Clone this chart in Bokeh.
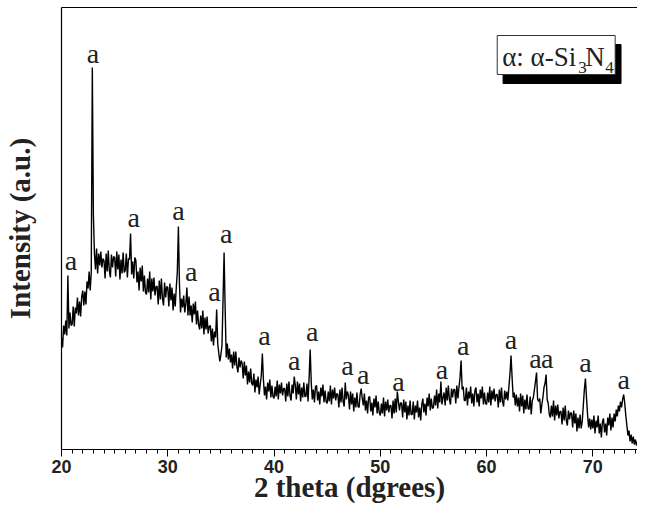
from bokeh.plotting import figure
from bokeh.models import Range1d, SingleIntervalTicker, FixedTicker, LinearAxis
from bokeh.core.properties import value
from bokeh.embed import file_html
from bokeh.resources import INLINE

# ---- data ----
two_theta_start = 20.0
two_theta_step = 0.1
intensity = [
    112, 102, 124, 115, 129, 114, 174, 121, 137, 124,   # 20
    125, 143, 123, 142, 136, 152, 134, 148, 133, 153,   # 21
    159, 144, 158, 145, 168, 161, 178, 159, 177, 382,   # 22
    235, 196, 180, 201, 176, 196, 184, 198, 182, 191,   # 23
    189, 171, 196, 178, 199, 179, 172, 195, 182, 193,   # 24
    192, 173, 198, 180, 195, 170, 190, 176, 197, 177,   # 25
    179, 196, 172, 191, 190, 216, 175, 188, 171, 192,   # 26
    189, 167, 178, 159, 182, 168, 184, 158, 174, 157,   # 27
    155, 171, 157, 178, 150, 171, 158, 172, 154, 163,   # 28
    163, 145, 169, 150, 171, 151, 144, 167, 152, 163,   # 29
    162, 143, 166, 149, 162, 139, 156, 143, 162, 178,   # 30
    223, 165, 137, 151, 142, 154, 137, 146, 162, 134,   # 31
    153, 134, 144, 127, 146, 135, 148, 125, 139, 125,   # 32
    120, 134, 121, 139, 115, 132, 120, 133, 116, 123,   # 33
    124, 108, 121, 104, 118, 112, 140, 106, 96, 88,     # 34
    95, 104, 150, 197, 140, 92, 106, 90, 101, 87,       # 35
    95, 81, 98, 84, 98, 83, 77, 92, 82, 89,             # 36
    86, 71, 88, 74, 84, 65, 78, 67, 81, 66,             # 37
    64, 76, 57, 70, 62, 73, 55, 65, 74, 96,             # 38
    70, 54, 63, 50, 67, 58, 70, 52, 64, 53,             # 39
    51, 63, 53, 69, 50, 65, 56, 67, 54, 61,             # 40
    61, 48, 66, 53, 68, 54, 49, 65, 56, 73,             # 41
    64, 50, 68, 55, 66, 48, 62, 52, 67, 53,             # 42
    53, 66, 48, 72, 100, 67, 50, 60, 47, 63,            # 43
    64, 49, 58, 45, 62, 53, 65, 47, 59, 48,             # 44
    46, 58, 48, 64, 45, 60, 51, 62, 49, 56,             # 45
    55, 42, 60, 47, 62, 48, 43, 67, 50, 58,             # 46
    54, 40, 58, 45, 56, 38, 52, 42, 57, 43,             # 47
    42, 55, 61, 51, 44, 56, 39, 49, 36, 52,             # 48
    53, 38, 47, 34, 51, 42, 54, 36, 48, 37,             # 49
    34, 46, 36, 52, 33, 48, 39, 50, 37, 44,             # 50
    44, 31, 49, 36, 51, 37, 58, 48, 39, 47,             # 51
    46, 32, 50, 37, 48, 30, 44, 34, 49, 35,             # 52
    35, 48, 30, 44, 37, 49, 32, 42, 29, 45,             # 53
    51, 37, 46, 34, 52, 43, 56, 39, 51, 41,             # 54
    42, 54, 44, 60, 41, 56, 47, 68, 45, 52,             # 55
    57, 44, 62, 49, 64, 50, 45, 61, 52, 60,             # 56
    60, 46, 64, 51, 62, 72, 89, 60, 63, 49,             # 57
    49, 62, 44, 58, 51, 63, 46, 56, 43, 59,             # 58
    62, 47, 56, 43, 60, 51, 63, 45, 57, 46,             # 59
    45, 57, 47, 63, 44, 59, 50, 61, 48, 55,             # 60
    55, 42, 60, 47, 62, 48, 43, 59, 50, 58,             # 61
    49, 63, 76, 94, 72, 52, 57, 44, 55, 43,             # 62
    52, 38, 56, 43, 54, 36, 50, 40, 55, 41,             # 63
    40, 53, 35, 49, 52, 60, 68, 77, 50, 48,             # 64
    51, 36, 45, 52, 62, 66, 75, 50, 46, 35,             # 65
    32, 44, 33, 49, 29, 44, 34, 45, 31, 38,             # 66
    38, 25, 42, 29, 44, 29, 24, 39, 30, 37,             # 67
    36, 22, 39, 26, 36, 18, 32, 21, 35, 21,             # 68
    28, 44, 60, 71, 52, 35, 22, 31, 20, 30,             # 69
    21, 34, 16, 29, 22, 34, 16, 26, 12, 28,             # 70
    31, 17, 26, 14, 32, 24, 36, 19, 32, 22,             # 71
    36, 28, 40, 33, 44, 38, 48, 42, 50, 55,             # 72
    46, 34, 24, 14, 19, 8, 15, 6, 13, 5,                # 73
    10, 4, 8,                                           # 74
]
two_theta = [round(two_theta_start + i * two_theta_step, 1) for i in range(len(intensity))]

label_2theta = [20.9, 22.95, 26.8, 31.0, 32.2, 34.4, 35.5, 39.1, 41.9, 43.6,
                46.9, 48.4, 51.7, 55.8, 57.8, 62.3, 64.6, 65.7, 69.3, 72.9]
label_height = [180, 387, 223, 230, 169, 149, 207, 105, 80, 109,
                75, 66, 59, 71, 95, 101, 82, 82, 78, 61]
label_text = ["a"] * len(label_2theta)

x_start, x_end = 20.0, 74.2
y_start, y_end = 0, 442

# legend box (data coords)
box_left, box_right, box_top, box_bottom = 61.0, 72.1, 414, 375

p = figure(width=637, height=505, x_range=Range1d(x_start, x_end),
           y_range=Range1d(y_start, y_end), output_backend="svg",
           toolbar_location=None, min_border_left=56, min_border_right=0,
           min_border_top=7, min_border_bottom=0,
           x_axis_label="2 theta (dgrees)", y_axis_label="Intensity (a.u.)")
p.outline_line_color = None
p.grid.visible = False
p.background_fill_color = "white"
p.border_fill_color = "white"

xa = p.xaxis[0]
xa.ticker = SingleIntervalTicker(interval=10, num_minor_ticks=10)
xa.major_tick_out = 7
xa.major_tick_in = 0
xa.minor_tick_out = 4
xa.minor_tick_in = 0
xa.major_tick_line_color = "black"
xa.minor_tick_line_color = "black"
xa.axis_line_color = "black"
xa.axis_line_width = 1.2
xa.major_label_text_font = "Liberation Sans"
xa.major_label_text_font_style = "bold"
xa.major_label_text_font_size = "18px"
xa.major_label_text_color = "#222222"
xa.major_label_standoff = 3
xa.axis_label_text_font = "Liberation Serif"
xa.axis_label_text_font_style = "bold"
xa.axis_label_text_font_size = "29px"
xa.axis_label_text_color = "#222222"
xa.axis_label_standoff = -5

ya = p.yaxis[0]
ya.ticker = FixedTicker(ticks=[])
ya.major_tick_out = 0
ya.major_tick_in = 0
ya.minor_tick_out = 0
ya.minor_tick_in = 0
ya.major_label_standoff = 0
ya.axis_line_color = "black"
ya.axis_line_width = 1.2
ya.axis_label_text_font = "Liberation Serif"
ya.axis_label_text_font_style = "bold"
ya.axis_label_text_font_size = "29px"
ya.axis_label_text_color = "#222222"
ya.axis_label_standoff = 26

top = LinearAxis(ticker=FixedTicker(ticks=[]), major_tick_out=0, major_tick_in=0,
                 minor_tick_out=0, minor_tick_in=0, major_label_standoff=0,
                 axis_line_color="black", axis_line_width=1.2)
p.add_layout(top, "above")

p.line(two_theta, intensity, line_color="black", line_width=1.4)

# peak labels: "middle" baseline, shifted up by about a third of the font size
p.text(x=label_2theta, y=label_height, text=label_text, y_offset=-9,
       text_font=value("Liberation Serif"), text_font_size="28px",
       text_align="center", text_baseline="middle", text_color="#222222")

# legend with shadow
p.quad(left=[box_left + 0.55], right=[box_right + 0.55], top=[box_top - 9],
       bottom=[box_bottom - 9], fill_color="black", line_color="black")
p.quad(left=[box_left], right=[box_right], top=[box_top], bottom=[box_bottom],
       fill_color="white", line_color="#333333", line_width=1)
serif = value("Liberation Serif")
p.text(x=[box_left], y=[box_bottom + 9], text=["α: α-Si"], x_offset=5, y_offset=-9,
       text_font=serif, text_font_size="27px", text_baseline="middle",
       text_color="#222222")
p.text(x=[box_left], y=[box_bottom + 1], text=["3"], x_offset=81, y_offset=-6,
       text_font=serif, text_font_size="17px", text_baseline="middle",
       text_color="#222222")
p.text(x=[box_left], y=[box_bottom + 9], text=["N"], x_offset=88, y_offset=-9,
       text_font=serif, text_font_size="27px", text_baseline="middle",
       text_color="#222222")
p.text(x=[box_left], y=[box_bottom + 1], text=["4"], x_offset=108, y_offset=-6,
       text_font=serif, text_font_size="17px", text_baseline="middle",
       text_color="#222222")

open("out.html", "w").write(file_html(p, INLINE))
